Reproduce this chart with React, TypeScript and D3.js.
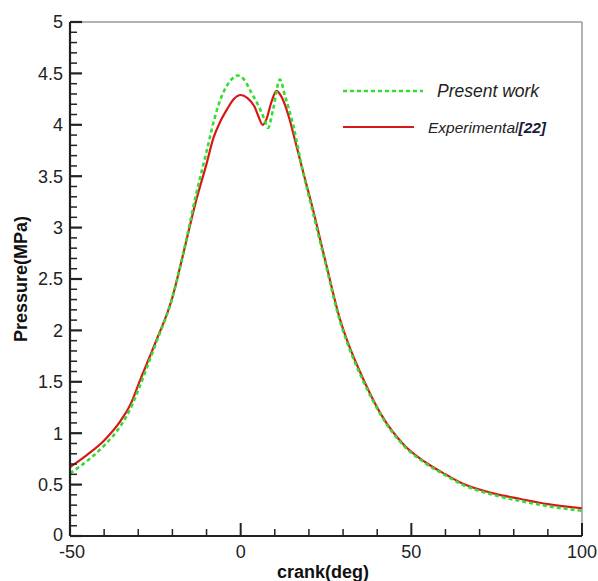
import React from "react";
import * as d3 from "d3";

const expAngle = [-50, -45, -40, -35, -32, -30, -25, -20, -17, -13, -10, -8, -6, -4, -2, 0, 2, 4, 5, 6.5, 7.5, 9, 10.5, 12, 14, 16, 18, 21, 25, 29, 31, 36, 41, 48, 54, 60, 65, 74, 82, 90, 100];
const expPressure = [0.67, 0.79, 0.93, 1.13, 1.3, 1.47, 1.88, 2.32, 2.72, 3.27, 3.62, 3.87, 4.03, 4.15, 4.25, 4.29, 4.26, 4.18, 4.1, 4.0, 4.05, 4.22, 4.33, 4.27, 4.09, 3.84, 3.58, 3.2, 2.65, 2.12, 1.92, 1.52, 1.19, 0.88, 0.72, 0.6, 0.51, 0.415, 0.36, 0.31, 0.27];

const simAngle = [-50, -45, -40, -35, -32, -30, -25, -20, -17, -13, -10, -7, -5, -3, -1, 1, 3, 5, 7, 8, 9.5, 11.5, 13, 15.5, 18, 21, 25, 29, 31, 36, 41, 48, 54, 60, 65, 74, 82, 90, 100];
const simPressure = [0.61, 0.73, 0.88, 1.08, 1.26, 1.42, 1.86, 2.32, 2.72, 3.33, 3.74, 4.14, 4.32, 4.43, 4.48, 4.44, 4.32, 4.2, 4.05, 3.97, 4.15, 4.44, 4.28, 3.98, 3.58, 3.17, 2.63, 2.1, 1.9, 1.5, 1.18, 0.87, 0.71, 0.59, 0.5, 0.4, 0.34, 0.29, 0.245];

const xMajorTicks = [-50, 0, 50, 100];
const yMajorTicks = [0, 0.5, 1, 1.5, 2, 2.5, 3, 3.5, 4, 4.5, 5];

const W = 598, H = 581;
const L = 70, R = 582, T = 22, B = 536;

export default function App() {
  const x = d3.scaleLinear().domain([-50, 100]).range([L, R]);
  const y = d3.scaleLinear().domain([0, 5]).range([B, T]);
  const line = d3.line<[number, number]>().x(d => x(d[0])).y(d => y(d[1])).curve(d3.curveMonotoneX);
  const expPts = expAngle.map((a, i) => [a, expPressure[i]] as [number, number]);
  const simPts = simAngle.map((a, i) => [a, simPressure[i]] as [number, number]);
  const xMinor = d3.range(-50, 101, 10).filter(v => !xMajorTicks.includes(v));
  const yMinor = d3.range(0, 51, 1).map(v => v / 10).filter(v => Math.round(v * 10) % 5 !== 0);
  const font = "Liberation Sans, Arial, Helvetica, sans-serif";
  return (
    <svg width={W} height={H} style={{ position: "absolute", left: 0, top: 0, background: "#fff" }} fontFamily={font}>
      <rect x={0} y={0} width={W} height={H} fill="#fff" />
      {/* frame */}
      <line x1={L} y1={T} x2={R} y2={T} stroke="#9a9a9a" strokeWidth={1.5} />
      <line x1={R} y1={T} x2={R} y2={B} stroke="#9a9a9a" strokeWidth={1.5} />
      {/* curves */}
      <path d={line(expPts) || ""} fill="none" stroke="#d81818" strokeWidth={2.2} />
      <path d={line(simPts) || ""} fill="none" stroke="#33dd33" strokeWidth={2.6} strokeDasharray="4 3" />
      {/* axes */}
      <line x1={L} y1={T} x2={L} y2={B} stroke="#222" strokeWidth={2.2} />
      <line x1={L} y1={B} x2={R} y2={B} stroke="#222" strokeWidth={2.2} />
      {xMajorTicks.map(v => (
        <line key={"xM" + v} x1={x(v)} x2={x(v)} y1={B} y2={B - 13} stroke="#222" strokeWidth={2} />
      ))}
      {xMinor.map(v => (
        <line key={"xm" + v} x1={x(v)} x2={x(v)} y1={B} y2={B - 7} stroke="#222" strokeWidth={1.5} />
      ))}
      {yMajorTicks.map(v => (
        <line key={"yM" + v} x1={L} x2={L + 12} y1={y(v)} y2={y(v)} stroke="#222" strokeWidth={2.2} />
      ))}
      {yMinor.map(v => (
        <line key={"ym" + v} x1={L} x2={L + 7} y1={y(v)} y2={y(v)} stroke="#222" strokeWidth={1.5} />
      ))}
      {/* tick labels */}
      {yMajorTicks.map(v => (
        <text key={"yl" + v} x={L - 7} y={y(v)} dy={v === 0 ? "0.3em" : "0.36em"} textAnchor="end" fontSize={18} fill="#222">
          {String(v)}
        </text>
      ))}
      {xMajorTicks.map(v => (
        <text key={"xl" + v} x={x(v) + (v === -50 ? 2 : 0)} y={B + 22} textAnchor="middle" fontSize={18} fill="#222">
          {String(v)}
        </text>
      ))}
      {/* axis titles */}
      <text x={(L + R) / 2 - 3} y={578} textAnchor="middle" fontSize={18} fontWeight="bold" fill="#111">
        crank(deg)
      </text>
      <text transform={`translate(27,${(T + B) / 2}) rotate(-90)`} textAnchor="middle" fontSize={18} fontWeight="bold" fill="#111">
        Pressure(MPa)
      </text>
      {/* legend */}
      <line x1={343} x2={423} y1={91} y2={91} stroke="#33dd33" strokeWidth={2.6} strokeDasharray="4 3" />
      <text x={437} y={97} fontSize={17.5} fontStyle="italic" fill="#222">Present work</text>
      <line x1={343} x2={414} y1={127} y2={127} stroke="#d81818" strokeWidth={2.2} />
      <text x={428} y={133} fontSize={15.5} fontStyle="italic" fill="#222">
        Experimental<tspan fontWeight="bold" fill="#1a1a3a">[22]</tspan>
      </text>
    </svg>
  );
}
